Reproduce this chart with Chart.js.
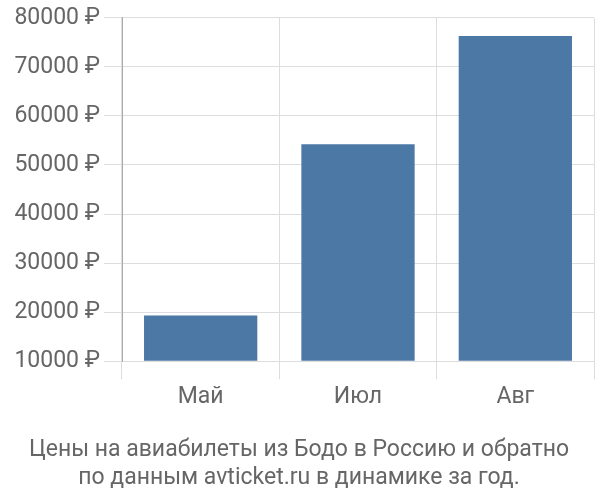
<!DOCTYPE html>
<html>
<head>
    <meta charset="utf-8">
    <title>Цены на авиабилеты из Бодо</title>
    <script src="https://cdn.jsdelivr.net/npm/chart.js@4.4.0/dist/chart.umd.min.js"></script>
    <style>
        body {
            margin: 0;
            background: #ffffff;
        }
        .wrap {
            width: 600px;
            height: 500px;
        }
    </style>
</head>
<body>
    <div class="wrap">
        <canvas id="priceChart" width="600" height="500"></canvas>
    </div>

    <script>
        // Data
        const months = ['Май', 'Июл', 'Авг'];
        const prices = [19300, 54200, 76300];
        const yTicks = [10000, 20000, 30000, 40000, 50000, 60000, 70000, 80000];
        const titleLines = [
            'Цены на авиабилеты из Бодо в Россию и обратно',
            'по данным avticket.ru в динамике за год.'
        ];

        const textColor = '#666666';
        const gridColor = '#dddddd';
        const fontSize = 23;

        new Chart(document.getElementById('priceChart'), {
            type: 'bar',
            data: {
                labels: months,
                datasets: [{
                    data: prices,
                    backgroundColor: '#4c78a6',
                    barPercentage: 0.9,
                    categoryPercentage: 0.8,
                    base: yTicks[0]
                }]
            },
            options: {
                responsive: false,
                animation: false,
                layout: {
                    padding: { top: 6, right: 6, left: 4, bottom: 8 }
                },
                plugins: {
                    legend: { display: false },
                    tooltip: { enabled: false },
                    title: {
                        display: true,
                        position: 'bottom',
                        text: titleLines,
                        color: textColor,
                        font: { family: 'Roboto', size: fontSize, weight: 'normal', lineHeight: 1.2 },
                        padding: { top: 22, bottom: 0 }
                    }
                },
                scales: {
                    x: {
                        grid: {
                            offset: true,
                            color: gridColor,
                            tickLength: 18
                        },
                        border: { color: gridColor },
                        ticks: {
                            color: textColor,
                            font: { family: 'Roboto', size: fontSize },
                            padding: 4
                        }
                    },
                    y: {
                        min: yTicks[0],
                        max: yTicks[yTicks.length - 1],
                        afterBuildTicks: axis => {
                            axis.ticks = yTicks.map(v => ({ value: v }));
                        },
                        afterFit: axis => {
                            axis.width = 118;
                        },
                        grid: {
                            color: gridColor,
                            tickLength: 18
                        },
                        border: { color: '#aaaaaa' },
                        ticks: {
                            color: textColor,
                            font: { family: 'Roboto', size: fontSize },
                            padding: 4,
                            callback: v => v + ' ₽'
                        }
                    }
                }
            }
        });
    </script>
</body>
</html>
